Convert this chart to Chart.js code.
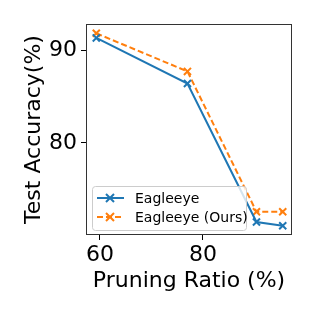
<!DOCTYPE html>
<html>
<head>
<meta charset="utf-8">
<script src="https://cdn.jsdelivr.net/npm/chart.js@4/dist/chart.umd.min.js"></script>
<style>
  body { margin: 0; background: #fff; }
  #wrap { width: 316px; height: 316px; }
</style>
</head>
<body>
<div id="wrap"><canvas id="myChart" width="316" height="316"></canvas></div>
<script>
var seriesNames = ["Eagleeye", "Eagleeye (Ours)"];
var ratios = [59.3, 77, 90.4, 95.5];
var accBase = [91.3, 86.4, 71.5, 71.1];
var accOurs = [91.8, 87.7, 72.6, 72.6];
var xTicks = [60, 80];
var yTicks = [80, 90];

var blue = "#1f77b4";
var orange = "#ff7f0e";
var font = "'DejaVu Sans', sans-serif";

function pts(xs, ys) {
  return xs.map(function (x, i) { return { x: x, y: ys[i] }; });
}

// frame + legend drawn like matplotlib
var frameLegend = {
  id: 'frameLegend',
  afterDraw: function (chart) {
    var c = chart.ctx, a = chart.chartArea;
    c.save();
    c.strokeStyle = "#333";
    c.lineWidth = 1;
    c.strokeRect(a.left + 0.5, a.top + 0.5, a.right - a.left - 1, a.bottom - a.top - 1);

    var bx = a.left + 6, by = a.bottom - 49, bw = 154, bh = 44;
    c.fillStyle = "rgba(255,255,255,0.8)";
    c.strokeStyle = "#cccccc";
    c.beginPath();
    c.roundRect(bx + 0.5, by + 0.5, bw, bh, 3);
    c.fill();
    c.stroke();

    var colors = [blue, orange];
    var dashes = [[], [6, 3]];
    for (var i = 0; i < seriesNames.length; i++) {
      var y = by + 12 + i * 19;
      c.strokeStyle = colors[i];
      c.lineWidth = 2;
      c.setLineDash(dashes[i]);
      c.beginPath();
      c.moveTo(bx + 5, y);
      c.lineTo(bx + 32, y);
      c.stroke();
      c.setLineDash([]);
      var mx = bx + 18, r = 4;
      c.beginPath();
      c.moveTo(mx - r, y - r); c.lineTo(mx + r, y + r);
      c.moveTo(mx + r, y - r); c.lineTo(mx - r, y + r);
      c.stroke();
      c.fillStyle = "#000";
      c.font = "14px " + font;
      c.textBaseline = "middle";
      c.fillText(seriesNames[i], bx + 43, y + 1);
    }
    c.restore();
  }
};

var ctx = document.getElementById("myChart");
var chart = new Chart(ctx, {
  type: 'line',
  data: {
    datasets: [{
      label: seriesNames[0],
      data: pts(ratios, accBase),
      borderColor: blue,
      backgroundColor: blue,
      borderWidth: 2,
      pointStyle: 'crossRot',
      pointRadius: 5,
      pointBorderWidth: 2,
      tension: 0
    }, {
      label: seriesNames[1],
      data: pts(ratios, accOurs),
      borderColor: orange,
      backgroundColor: orange,
      borderWidth: 2,
      borderDash: [6, 3],
      pointStyle: 'crossRot',
      pointRadius: 5,
      pointBorderWidth: 2,
      tension: 0
    }]
  },
  options: {
    responsive: false,
    animation: false,
    layout: { padding: { top: 24, right: 24, left: 0, bottom: 0 } },
    plugins: { legend: { display: false }, tooltip: { enabled: false } },
    scales: {
      x: {
        type: 'linear',
        min: 57.3,
        max: 97.3,
        afterBuildTicks: function (s) { s.ticks = xTicks.map(function (v) { return { value: v }; }); },
        afterFit: function (s) { s.height = 81; },
        grid: { drawOnChartArea: false, drawTicks: true, tickLength: 5, tickColor: "#000" },
        border: { display: false },
        ticks: { color: "#000", padding: 2, font: { family: font, size: 22 } },
        title: { display: true, text: "Pruning Ratio (%)", color: "#000", padding: { top: 0, bottom: 22 }, font: { family: font, size: 22 } }
      },
      y: {
        min: 70.1,
        max: 92.8,
        afterBuildTicks: function (s) { s.ticks = yTicks.map(function (v) { return { value: v }; }); },
        afterFit: function (s) { s.width = 86; },
        grid: { drawOnChartArea: false, drawTicks: true, tickLength: 5, tickColor: "#000" },
        border: { display: false },
        ticks: { color: "#000", padding: 4, font: { family: font, size: 22 } },
        title: { display: true, text: "Test Accuracy(%)", color: "#000", padding: { top: 21, bottom: 0 }, font: { family: font, size: 22 } }
      }
    }
  },
  plugins: [frameLegend]
});
</script>
</body>
</html>
